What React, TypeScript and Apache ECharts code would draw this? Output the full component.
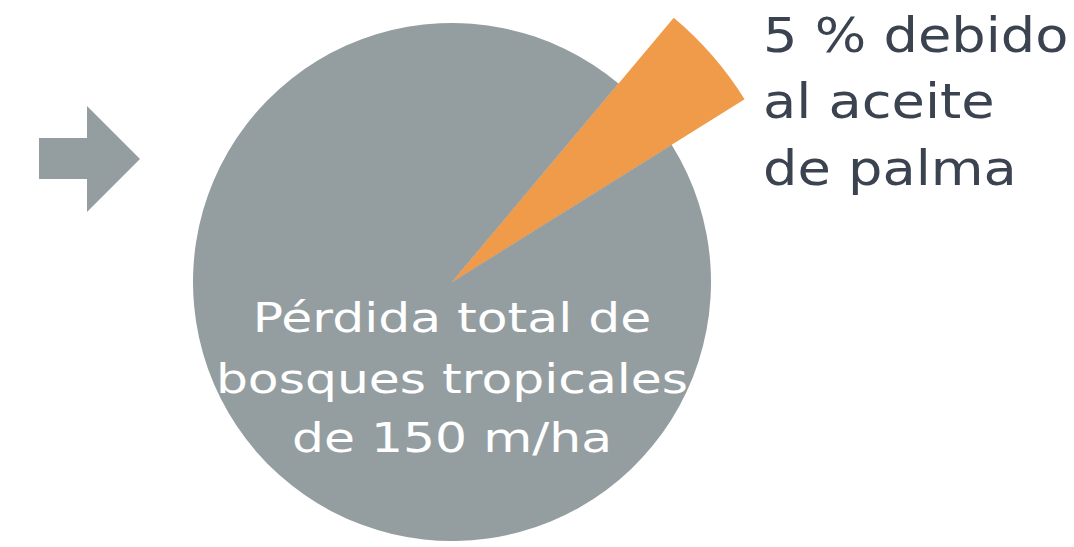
import React, { useEffect, useRef } from "react";
import * as echarts from "echarts";

const sliceNames = ["Aceite de palma", "Otras causas"];
const sliceShares = [5, 95];
const centerLines = ["Pérdida total de", "bosques tropicales", "de 150 m/ha"];
const calloutLines = ["5 % debido", "al aceite", "de palma"];

const GRAY = "#949ea1";
const ORANGE = "#ef9b4a";
const DARK = "#3b4250";
const FONT = "'DejaVu Sans', sans-serif";

export default function App() {
  const ref = useRef<HTMLDivElement>(null);
  useEffect(() => {
    if (!ref.current) return;
    const chart = echarts.init(ref.current, undefined, { renderer: "svg" });
    const cx = 452;
    const cy = 282;
    const base = sliceNames.map((n, i) => ({ name: n, value: sliceShares[i], itemStyle: { color: GRAY } }));
    const top = sliceNames.map((n, i) => ({
      name: n,
      value: sliceShares[i],
      itemStyle: { color: i === 0 ? ORANGE : "rgba(0,0,0,0)" },
    }));
    const graphics: any[] = [
      {
        type: "polygon",
        shape: {
          points: [[39, 138], [87, 138], [87, 106], [140, 159], [87, 212], [87, 179], [39, 179]],
        },
        style: { fill: GRAY },
      },
    ];
    const cBase = [318, 379, 438];
    centerLines.forEach((t, i) => {
      graphics.push({
        type: "text",
        x: cx,
        y: cBase[i],
        scaleX: 1.26,
        z: 10,
        style: {
          text: t,
          font: `40px ${FONT}`,
          fill: "#ffffff",
          align: "center",
          verticalAlign: "middle",
        },
      });
    });
    const rBase = [35, 101, 168];
    calloutLines.forEach((t, i) => {
      graphics.push({
        type: "text",
        x: 763,
        y: rBase[i],
        scaleX: 1.13,
        z: 10,
        style: {
          text: t,
          font: `48px ${FONT}`,
          fill: DARK,
          align: "left",
          verticalAlign: "middle",
        },
      });
    });
    chart.setOption({
      animation: false,
      backgroundColor: "#ffffff",
      series: [
        {
          type: "pie",
          center: [cx, cy],
          radius: 259,
          startAngle: 50,
          silent: true,
          label: { show: false },
          labelLine: { show: false },
          emphasis: { disabled: true },
          data: base,
        },
        {
          type: "pie",
          center: [cx, cy],
          radius: 345,
          startAngle: 50,
          silent: true,
          label: { show: false },
          labelLine: { show: false },
          emphasis: { disabled: true },
          data: top,
        },
      ],
      graphic: graphics,
    });
    return () => chart.dispose();
  }, []);
  return (
    <div
      ref={ref}
      style={{ position: "absolute", left: 0, top: 0, width: 1074, height: 547 }}
    />
  );
}
